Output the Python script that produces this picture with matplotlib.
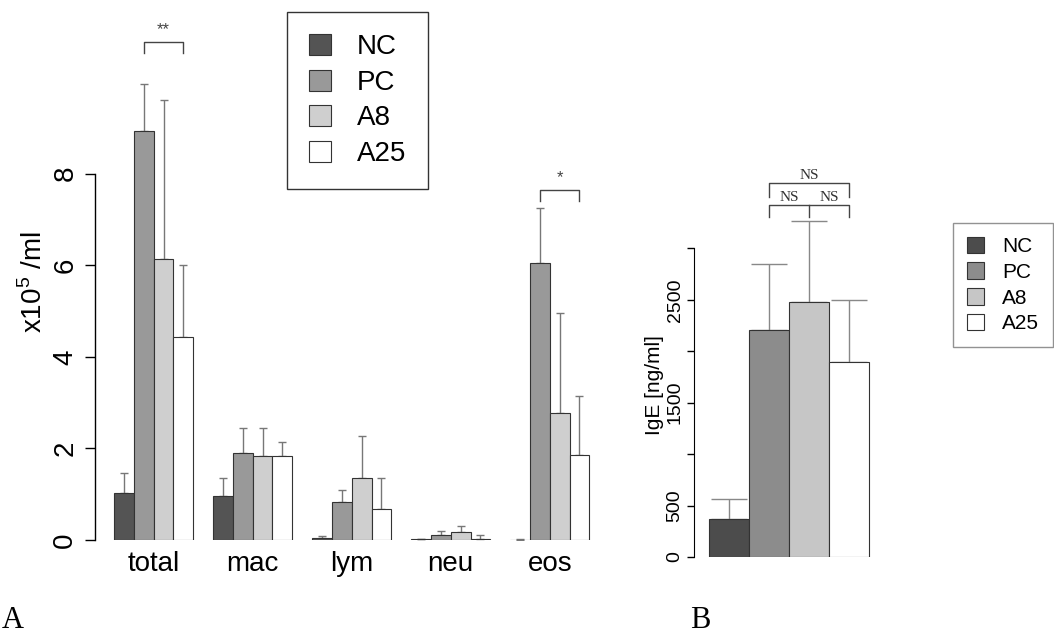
import matplotlib
matplotlib.use("Agg")
import matplotlib.pyplot as plt
import numpy as np

plt.rcParams['font.family'] = ['Liberation Sans', 'DejaVu Sans']
plt.rcParams['mathtext.fontset'] = 'custom'
plt.rcParams['mathtext.rm'] = 'Liberation Sans'

# ---------------- data ----------------
groups = ["total", "mac", "lym", "neu", "eos"]
series = ["NC", "PC", "A8", "A25"]

nc_mean = [1.03, 0.95, 0.05, 0.02, 0.01]
pc_mean = [8.93, 1.91, 0.82, 0.11, 6.05]
a8_mean = [6.14, 1.83, 1.35, 0.17, 2.77]
a25_mean = [4.43, 1.83, 0.68, 0.02, 1.86]

nc_upper = [1.47, 1.35, 0.08, 0.03, 0.02]
pc_upper = [9.96, 2.44, 1.09, 0.20, 7.25]
a8_upper = [9.60, 2.45, 2.26, 0.31, 4.96]
a25_upper = [6.00, 2.15, 1.35, 0.11, 3.15]

yticks_A = [0, 2, 4, 6, 8]

# significance in panel A (PC vs A25 within a group)
sig_groups = ["total", "eos"]
sig_labels = ["**", "*"]
sig_heights = [10.87, 7.64]

ige_mean = [370, 2205, 2482, 1897]
ige_upper = [560, 2843, 3270, 2497]
yticks_B = [0, 500, 1000, 1500, 2000, 2500, 3000]
yticklabels_B = ["0", "500", "", "1500", "", "2500", ""]

colorsA = ["#545454", "#999999", "#cfcfcf", "#ffffff"]
colorsB = ["#4c4c4c", "#8c8c8c", "#c6c6c6", "#ffffff"]

W, H = 1054, 638
fig = plt.figure(figsize=(W / 100, H / 100), dpi=100)

def px_axes(left, top, right, bottom):
    return fig.add_axes([left / W, 1 - bottom / H, (right - left) / W, (bottom - top) / H])

# ---------------- panel A ----------------
axA = px_axes(95, 13.3, 610, 540)
means = [nc_mean, pc_mean, a8_mean, a25_mean]
uppers = [nc_upper, pc_upper, a8_upper, a25_upper]
gstart = np.arange(len(groups)) * 5 + 0.96
for i, s in enumerate(series):
    x = gstart + i + 0.5
    m = np.array(means[i])
    u = np.array(uppers[i])
    axA.bar(x, m, width=1.0, color=colorsA[i], edgecolor="#333333", linewidth=0.8, label=s, zorder=2)
    axA.errorbar(x, m, yerr=[np.zeros_like(m), u - m], fmt='none', ecolor="#777777",
                 elinewidth=1.0, capsize=2.9, capthick=1.0, zorder=1)

for g, lab, h in zip(sig_groups, sig_labels, sig_heights):
    gi = groups.index(g)
    x1 = gstart[gi] + 1 + 0.5
    x2 = gstart[gi] + 3 + 0.5
    d = 0.24
    axA.plot([x1, x1, x2, x2], [h - d, h, h, h - d], color="#444444", lw=1.0, clip_on=False)
    axA.text((x1 + x2) / 2, h + 0.1, lab, ha='center', va='bottom', fontsize=12, color="#444444")

axA.set_xlim(0, 26)
axA.set_ylim(0, 11.5)
for sp in ["top", "right", "bottom"]:
    axA.spines[sp].set_visible(False)
axA.spines["left"].set_bounds(0, 8)
axA.spines["left"].set_linewidth(1.0)
axA.set_yticks(yticks_A)
axA.set_yticklabels([str(t) for t in yticks_A], rotation=90, va='center')
axA.tick_params(axis='y', length=7, width=1.0, labelsize=20, pad=5)
axA.set_xticks(gstart + 2)
axA.set_xticklabels(groups)
axA.tick_params(axis='x', length=0, labelsize=20, pad=8)
axA.text(-0.118, 0.49, r'x10$^{\mathregular{5}}$ /ml', transform=axA.transAxes, rotation=90,
         ha='center', va='center', fontsize=20)
axA.set_facecolor('none')

legA = axA.legend(loc='upper left', bbox_to_anchor=(287 / W, 1 - 12 / H), bbox_transform=fig.transFigure,
                  borderaxespad=0, fontsize=20, frameon=True, fancybox=False, edgecolor='black',
                  borderpad=0.8, handlelength=0.8, handleheight=0.8, handletextpad=0.9,
                  labelspacing=0.33)
legA.get_frame().set_linewidth(1.0)

# ---------------- panel B ----------------
axB = px_axes(694, 166, 894, 557)
xb = np.arange(len(series)) + 0.375 + 0.5
mb = np.array(ige_mean)
ub = np.array(ige_upper)
for i, s in enumerate(series):
    axB.bar(xb[i], mb[i], width=1.0, color=colorsB[i], edgecolor="#333333", linewidth=0.8, label=s, zorder=2)
axB.errorbar(xb, mb, yerr=[np.zeros_like(mb), ub - mb], fmt='none', ecolor="#888888",
             elinewidth=1.0, capsize=13, capthick=1.0, zorder=1)

# NS brackets
h1, d1 = 3417, 117
axB.plot([xb[1], xb[1], xb[3], xb[3]], [h1 - d1, h1, h1, h1 - d1], color="#444444", lw=1.0, clip_on=False)
axB.plot([xb[2], xb[2]], [h1, h1 - d1], color="#444444", lw=1.0, clip_on=False)
axB.text((xb[1] + xb[2]) / 2, 3495, "NS", ha='center', va='center', fontsize=11,
         family=['Liberation Serif'], color="#333333")
axB.text((xb[2] + xb[3]) / 2, 3495, "NS", ha='center', va='center', fontsize=11,
         family=['Liberation Serif'], color="#333333")
h2, d2 = 3631, 136
axB.plot([xb[1], xb[1], xb[3], xb[3]], [h2 - d2, h2, h2, h2 - d2], color="#444444", lw=1.0, clip_on=False)
axB.text(xb[2], 3705, "NS", ha='center', va='center', fontsize=11,
         family=['Liberation Serif'], color="#333333")

axB.set_xlim(0, 5)
axB.set_ylim(0, 3800)
for sp in ["top", "right", "bottom"]:
    axB.spines[sp].set_visible(False)
axB.spines["left"].set_bounds(0, 3000)
axB.set_yticks(yticks_B)
axB.set_yticklabels(yticklabels_B, rotation=90, va='center')
axB.tick_params(axis='y', length=5, width=1.0, labelsize=14, pad=2.5)
axB.set_xticks([])
axB.text(-0.2, 0.44, "IgE [ng/ml]", transform=axB.transAxes, rotation=90,
         ha='center', va='center', fontsize=15)
axB.set_facecolor('none')

legB = axB.legend(loc='upper left', bbox_to_anchor=(953 / W, 1 - 223 / H), bbox_transform=fig.transFigure,
                  borderaxespad=0, fontsize=15, frameon=True, fancybox=False, edgecolor='#777777',
                  borderpad=0.65, handlelength=0.85, handleheight=0.85, handletextpad=0.85,
                  labelspacing=0.3)
legB.get_frame().set_linewidth(1.0)

# panel letters
fig.text(2 / W, 1 - 621 / H, "A", ha='left', va='center', fontsize=22, family=['Liberation Serif'])
fig.text(690 / W, 1 - 621 / H, "B", ha='left', va='center', fontsize=22, family=['Liberation Serif'])

fig.savefig("out.png", dpi=100)
